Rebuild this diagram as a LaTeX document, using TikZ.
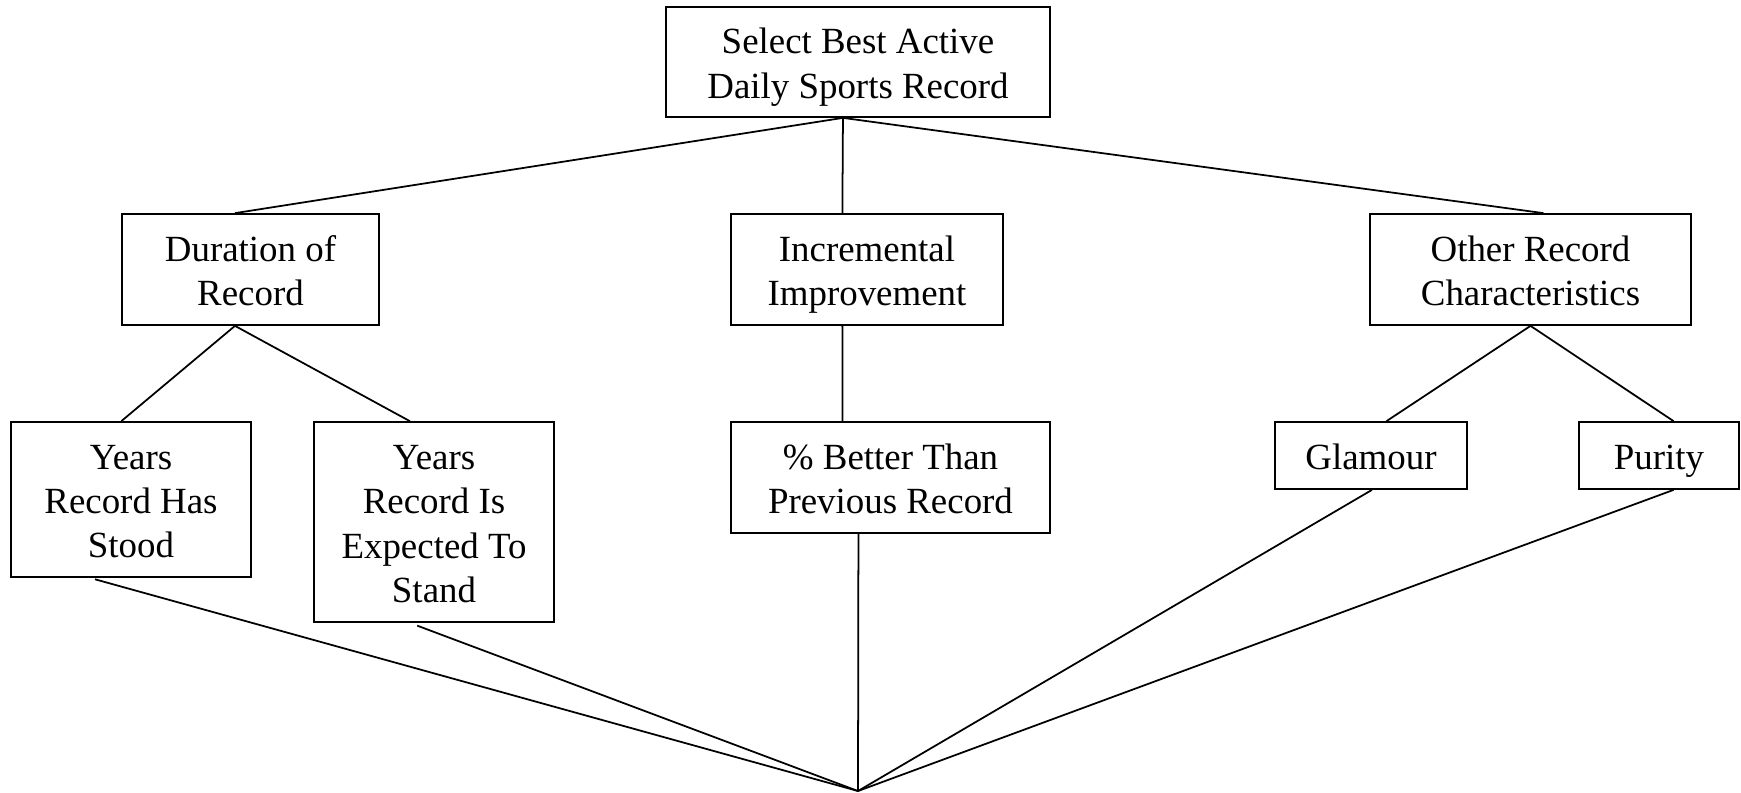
\documentclass[tikz,border=0pt]{standalone}
\usepackage{fontspec}
\setmainfont{Liberation Serif}
\usetikzlibrary{calc}

\newcommand{\topstrut}{\rule{0pt}{20.5pt}}

\begin{document}
\begin{tikzpicture}[x=0.02cm, y=-0.02cm,
		critBox/.style={rectangle, draw=black, line width=1pt, align=center, inner sep=0pt, font=\fontsize{21}{25.3}\selectfont,
			execute at end node={\rule[-4.6pt]{0pt}{0pt}}},
		link/.style={line width=1pt, color=black}]
		\useasboundingbox (0,0) rectangle (1741,792);

		\node[critBox, minimum width=7.68cm, minimum height=2.2cm](selectBox) at (858,62){\topstrut Select Best Active\\Daily Sports Record};

		\node[critBox, minimum width=5.14cm, minimum height=2.22cm](durationBox) at (250.5,269.5){\topstrut Duration of\\Record};
		\node[critBox, minimum width=5.44cm, minimum height=2.22cm](incrementBox) at (867,269.5){\topstrut Incremental\\Improvement};
		\node[critBox, minimum width=6.42cm, minimum height=2.22cm](otherBox) at (1530.5,269.5){\topstrut Other Record\\Characteristics};

		\node[critBox, minimum width=4.8cm, minimum height=3.1cm](stoodBox) at (131,499.5){\topstrut Years\\Record Has\\Stood};
		\node[critBox, minimum width=4.8cm, minimum height=4.0cm](standBox) at (434,522){\topstrut Years\\Record Is\\Expected To\\Stand};
		\node[critBox, minimum width=6.38cm, minimum height=2.22cm](betterBox) at (890.5,477.5){\topstrut\% Better Than\\Previous Record};
		\node[critBox, minimum width=3.84cm, minimum height=1.34cm](glamourBox) at (1371,455.5){\topstrut Glamour};
		\node[critBox, minimum width=3.2cm, minimum height=1.34cm](purityBox) at (1659,455.5){\topstrut Purity};

		\coordinate (sink) at (858,791);

		% top level
		\draw [link] ($(selectBox.south west)!0.461!(selectBox.south east)$) -- ($(durationBox.north west)!0.44!(durationBox.north east)$);
		\draw [link] ($(selectBox.south west)!0.461!(selectBox.south east)$) -- ($(incrementBox.north west)!0.41!(incrementBox.north east)$);
		\draw [link] ($(selectBox.south west)!0.461!(selectBox.south east)$) -- ($(otherBox.north west)!0.54!(otherBox.north east)$);

		% second level
		\draw [link] ($(durationBox.south west)!0.44!(durationBox.south east)$) -- ($(stoodBox.north west)!0.46!(stoodBox.north east)$);
		\draw [link] ($(durationBox.south west)!0.44!(durationBox.south east)$) -- ($(standBox.north west)!0.40!(standBox.north east)$);
		\draw [link] ($(incrementBox.south west)!0.41!(incrementBox.south east)$) -- ($(betterBox.north west)!0.35!(betterBox.north east)$);
		\draw [link] ($(otherBox.south west)!0.50!(otherBox.south east)$) -- ($(glamourBox.north west)!0.58!(glamourBox.north east)$);
		\draw [link] ($(otherBox.south west)!0.50!(otherBox.south east)$) -- ($(purityBox.north west)!0.59!(purityBox.north east)$);

		% down to the common point
		\draw [link, shorten <=3pt] ($(stoodBox.south west)!0.33!(stoodBox.south east)$) -- (sink);
		\draw [link, shorten <=4.5pt] ($(standBox.south west)!0.40!(standBox.south east)$) -- (sink);
		\draw [link] ($(betterBox.south west)!0.40!(betterBox.south east)$) -- (sink);
		\draw [link] ($(glamourBox.south west)!0.505!(glamourBox.south east)$) -- (sink);
		\draw [link] ($(purityBox.south west)!0.59!(purityBox.south east)$) -- (sink);

	\end{tikzpicture}
\end{document}
